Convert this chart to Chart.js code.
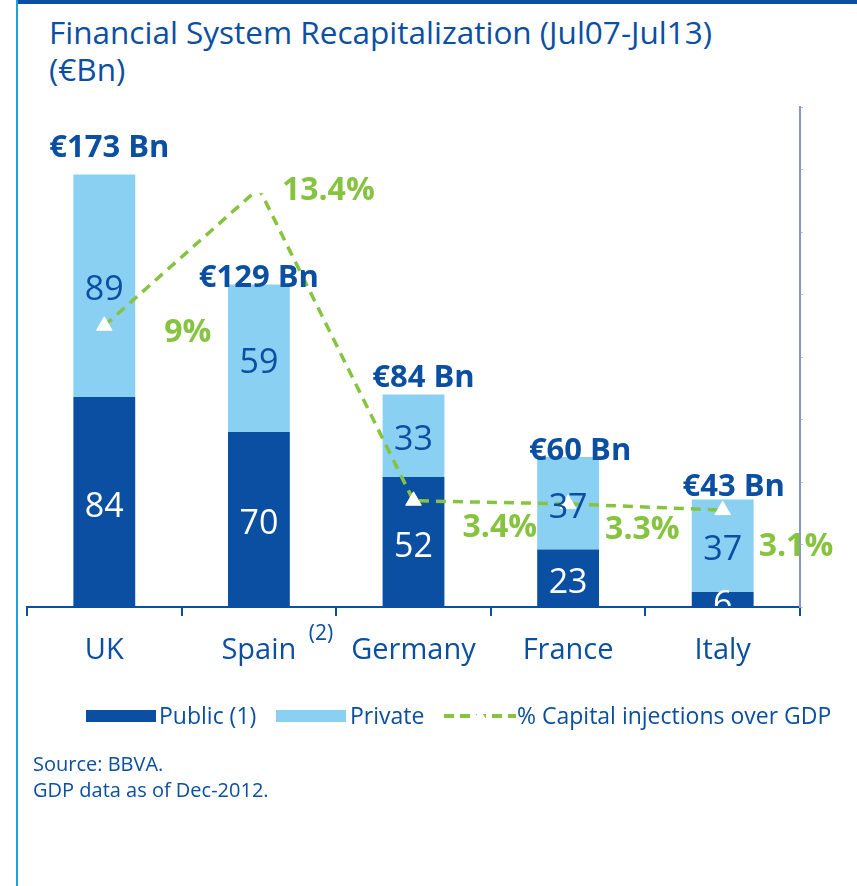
<!DOCTYPE html>
<html>
<head>
<meta charset="utf-8">
<script src="https://cdn.jsdelivr.net/npm/chart.js@4.4.0/dist/chart.umd.min.js"></script>
<style>
  body { margin: 0; background: #fff; font-family: "Open Sans", sans-serif; color: #0b4fa2; }
  #wrap { position: relative; width: 857px; height: 886px; overflow: hidden; background: #fff; }
  #topbar { position: absolute; left: 16px; top: 0; right: 0; height: 4px; background: #0b4fa2; }
  #leftline { position: absolute; left: 16px; top: 0; bottom: 0; width: 2px; background: #1ea0e6; }
  #title { position: absolute; left: 49px; top: 13px; font-size: 31.5px; line-height: 37px; white-space: nowrap; }
  #chart { position: absolute; left: 0; top: 0; }
  .lg { position: absolute; top: 700px; font-size: 23px; line-height: 30px; white-space: nowrap; }
  .sw { position: absolute; top: 710px; height: 12px; width: 70px; }
  #source { position: absolute; left: 33px; top: 751px; font-size: 20px; line-height: 26px; }
</style>
</head>
<body>
<div id="wrap">
  <div id="topbar"></div>
  <div id="leftline"></div>
  <div id="title">Financial System Recapitalization (Jul07-Jul13)<br>(€Bn)</div>
  <canvas id="chart" width="857" height="886"></canvas>
  <div class="sw" style="left:86px;background:#0b4fa2"></div>
  <div class="lg" style="left:159px">Public (1)</div>
  <div class="sw" style="left:276px;background:#89d0f3"></div>
  <div class="lg" style="left:350px">Private</div>
  <svg style="position:absolute;left:444px;top:706px" width="72" height="20">
    <line x1="0" y1="10" x2="72" y2="10" stroke="#86c440" stroke-width="4" stroke-dasharray="10,6"/>
    <polygon points="36,3 43,15 29,15" fill="#fff"/>
  </svg>
  <div class="lg" style="left:517px">% Capital injections over GDP</div>
  <div id="source">Source: BBVA.<br>GDP data as of Dec-2012.</div>
</div>
<script>
const categories = ['UK', 'Spain', 'Germany', 'France', 'Italy'];
const publicVals = [84, 70, 52, 23, 6];
const privateVals = [89, 59, 33, 37, 37];
const totalLabels = ['€173 Bn', '€129 Bn', '€84 Bn', '€60 Bn', '€43 Bn'];
const gdpPct = [9, 13.4, 3.4, 3.3, 3.1];
const pctLabels = ['9%', '13.4%', '3.4%', '3.3%', '3.1%'];

// hand placement of the annotations (layout only)
const totalDx = [5, 0, 10, 12, 11];
const totalGap = [18, -2, 8, -3, 4];
const pctOffset = [[60, 7], [23, 3], [49, 27], [37, 26], [36, 37]];

const BLUE = '#0b4fa2';
const LIGHT = '#89d0f3';
const GREEN = '#86c440';

const labelsPlugin = {
  id: 'labels',
  afterDatasetsDraw(chart) {
    const ctx = chart.ctx;
    const area = chart.chartArea;
    const pub = chart.getDatasetMeta(0).data;
    const priv = chart.getDatasetMeta(1).data;
    const line = chart.getDatasetMeta(2).data;
    ctx.save();
    ctx.textAlign = 'center';
    ctx.textBaseline = 'middle';

    // values inside the bars, clipped at the axis
    ctx.save();
    ctx.beginPath();
    ctx.rect(0, 0, chart.width, area.bottom - 1);
    ctx.clip();
    ctx.font = '34px "Open Sans"';
    pub.forEach((bar, i) => {
      let y = (bar.y + bar.base) / 2 + 5;
      if (bar.base - bar.y < 30) y = bar.base - 2;
      ctx.fillStyle = '#fff';
      ctx.fillText(publicVals[i], bar.x, y);
    });
    priv.forEach((bar, i) => {
      ctx.fillStyle = BLUE;
      ctx.fillText(privateVals[i], bar.x, (bar.y + bar.base) / 2 + 5);
    });
    ctx.restore();

    // totals above the bars
    ctx.font = 'bold 31px "Open Sans"';
    ctx.fillStyle = BLUE;
    ctx.textBaseline = 'alphabetic';
    priv.forEach((bar, i) => {
      ctx.fillText(totalLabels[i], bar.x + totalDx[i], bar.y - totalGap[i]);
    });

    // % of GDP labels
    ctx.font = 'bold 32px "Open Sans"';
    ctx.fillStyle = GREEN;
    ctx.textAlign = 'left';
    ctx.textBaseline = 'middle';
    line.forEach((pt, i) => {
      ctx.fillText(pctLabels[i], pt.x + pctOffset[i][0], pt.y + pctOffset[i][1]);
    });

    // footnote mark next to Spain
    const xs = chart.scales.x;
    ctx.font = '21px "Open Sans"';
    ctx.fillStyle = BLUE;
    ctx.textAlign = 'center';
    ctx.fillText('(2)', xs.getPixelForValue(1) + 62, 634);
    ctx.restore();
  }
};

new Chart(document.getElementById('chart'), {
  data: {
    labels: categories,
    datasets: [
      {
        type: 'bar', label: 'Public (1)', data: publicVals,
        backgroundColor: BLUE, stack: 's', order: 2,
        barPercentage: 0.4, categoryPercentage: 1
      },
      {
        type: 'bar', label: 'Private', data: privateVals,
        backgroundColor: LIGHT, stack: 's', order: 2,
        barPercentage: 0.4, categoryPercentage: 1
      },
      {
        type: 'line', label: '% Capital injections over GDP', data: gdpPct,
        yAxisID: 'y1', order: 0,
        borderColor: GREEN, borderWidth: 3.5, borderDash: [10, 7],
        pointStyle: 'triangle', pointRadius: 9, pointHoverRadius: 9,
        pointBackgroundColor: '#fff', pointBorderColor: '#fff', pointBorderWidth: 1,
        tension: 0, fill: false
      }
    ]
  },
  options: {
    responsive: false,
    animation: false,
    layout: { padding: { left: 27, top: 107, right: 49, bottom: 219 } },
    plugins: {
      legend: { display: false },
      tooltip: { enabled: false }
    },
    scales: {
      x: {
        stacked: true,
        grid: {
          offset: true, drawOnChartArea: false, drawTicks: true,
          tickLength: 9, color: BLUE, lineWidth: 2
        },
        border: { display: true, color: BLUE, width: 2 },
        ticks: {
          color: BLUE, padding: 17,
          font: { family: 'Open Sans', size: 29 }
        },
        afterFit(scale) { scale.height = 60; }
      },
      y: {
        stacked: true, display: false, min: 0, max: 200
      },
      y1: {
        position: 'right', min: 0, max: 16,
        ticks: { display: false, stepSize: 2 },
        grid: {
          drawOnChartArea: false, drawTicks: true,
          tickLength: 3, color: '#b9c3e0', lineWidth: 1
        },
        border: { display: true, color: '#8796c4', width: 2 },
        afterFit(scale) { scale.width = 8; }
      }
    }
  },
  plugins: [labelsPlugin]
});
</script>
</body>
</html>
